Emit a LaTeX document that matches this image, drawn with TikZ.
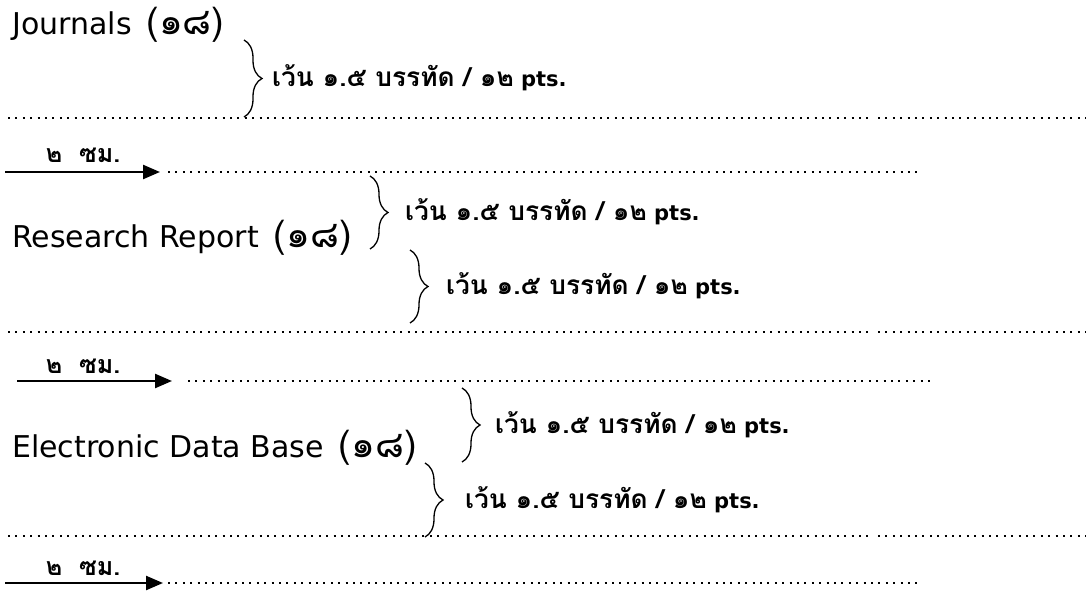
\documentclass[tikz,border=0pt]{standalone}
\usepackage{fontspec}
\setmainfont{DejaVu Sans}
\newfontfamily\thaifont[Script=Thai,Scale=1.25]{Loma}
\usetikzlibrary{arrows.meta,decorations.pathreplacing}

\tikzset{
  heading/.style={anchor=base west, inner sep=0pt, font=\fontsize{30}{30}\selectfont},
  gaplabel/.style={anchor=west, inner sep=0pt, font=\bfseries\fontsize{21}{21}\selectfont},
  cmlabel/.style={inner sep=0pt, font=\thaifont\bfseries\fontsize{20}{20}\selectfont},
  dotline/.style={line width=1.9pt, dash pattern=on 1.9pt off 5.5pt},
  gapbrace/.style={decorate, decoration={brace, amplitude=18pt}, line width=1.3pt},
  indent/.style={-{Triangle[length=17pt,width=14pt]}, line width=2.4pt}
}

\begin{document}
\begin{tikzpicture}[x=1pt,y=-1pt]
  \useasboundingbox (0,0) rectangle (1086,591);

  % Journals
  \node[heading] (journals) at (12,35) {Journals\hspace{0.5em}{\thaifont(๑๘)}};
  \draw[gapbrace] (244,40) -- (244,117);
  \node[gaplabel] (gap1) at (272,78) {{\thaifont เว้น ๑.๕ บรรทัด / ๑๒} pts.};
  \draw[dotline] (8,118) -- (870,118);
  \draw[dotline] (878,118) -- (1086,118);

  \node[cmlabel] (cm1) at (83,155) {๒\ \ ซม.};
  \coordinate (m1) at (5,172);
  \coordinate (t1) at (160,172);
  \draw[indent] (m1) -- (t1);
  \draw[dotline] (168,172) -- (918,172);

  % Research Report
  \draw[gapbrace] (370,176) -- (370,249);
  \node[gaplabel] (gap2) at (405,212) {{\thaifont เว้น ๑.๕ บรรทัด / ๑๒} pts.};
  \node[heading] (report) at (12,247) {Research Report\hspace{0.5em}{\thaifont(๑๘)}};
  \draw[gapbrace] (410,250) -- (410,323);
  \node[gaplabel] (gap3) at (446,286) {{\thaifont เว้น ๑.๕ บรรทัด / ๑๒} pts.};
  \draw[dotline] (8,332) -- (870,332);
  \draw[dotline] (878,332) -- (1086,332);

  \node[cmlabel] (cm2) at (83,366) {๒\ \ ซม.};
  \coordinate (m2) at (17,381);
  \coordinate (t2) at (172,381);
  \draw[indent] (m2) -- (t2);
  \draw[dotline] (188,381) -- (930,381);

  % Electronic Data Base
  \draw[gapbrace] (462,388) -- (462,462);
  \node[gaplabel] (gap4) at (495,425) {{\thaifont เว้น ๑.๕ บรรทัด / ๑๒} pts.};
  \node[heading] (database) at (12,457) {Electronic Data Base\hspace{0.5em}{\thaifont(๑๘)}};
  \draw[gapbrace] (425,463) -- (425,537);
  \node[gaplabel] (gap5) at (465,500) {{\thaifont เว้น ๑.๕ บรรทัด / ๑๒} pts.};
  \draw[dotline] (8,536) -- (870,536);
  \draw[dotline] (878,536) -- (1086,536);

  \node[cmlabel] (cm3) at (83,568) {๒\ \ ซม.};
  \coordinate (m3) at (5,583);
  \coordinate (t3) at (163,583);
  \draw[indent] (m3) -- (t3);
  \draw[dotline] (168,583) -- (918,583);
\end{tikzpicture}
\end{document}
